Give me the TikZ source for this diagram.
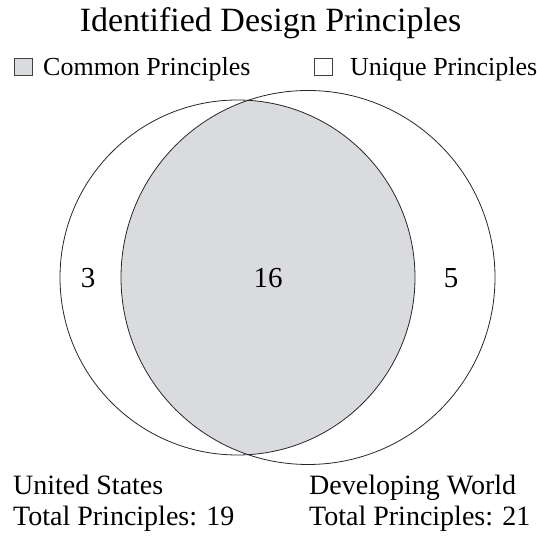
\documentclass[tikz,border=0pt]{standalone}
\usepackage{fontspec}
\setmainfont{Liberation Serif}
\usetikzlibrary{positioning}
\definecolor{commongray}{RGB}{218,219,222}
\tikzset{
	venn/.style={line width=0.8pt, color=black!85},
	keybox/.style={line width=0.6pt, draw=black!75},
	label/.style={inner sep=0pt, anchor=base west, font=\fontsize{28}{30}\selectfont},
	count/.style={inner sep=0pt, font=\fontsize{29}{30}\selectfont}
}

\begin{document}
\begin{tikzpicture}[x=1pt, y=1pt]
			%%%%% START %%%%%
			\useasboundingbox (0, 0) rectangle (537, 537);
			
			\node[inner sep=0pt, anchor=base, font=\fontsize{34}{36}\selectfont] (title) at (270.5, 505) {Identified Design Principles};
			
			\draw[keybox, fill=commongray] (14, 462) rectangle (32, 479);
			\node[label, font=\fontsize{26}{28}\selectfont] (common) at (43, 461) {Common Principles};
			\draw[keybox, fill=white] (314, 462) rectangle (332, 479);
			\node[label, font=\fontsize{26}{28}\selectfont] (unique) at (350, 461) {Unique Principles};
			
			\coordinate (us) at (237.5, 259.5);
			\coordinate (dw) at (308, 259.5);
			
			\begin{scope}
				\clip (us) circle (177.5);
				\fill[commongray] (dw) circle (187);
			\end{scope}
			\draw[venn] (us) circle (177.5);
			\draw[venn] (dw) circle (187);
			
			\node[count] (onlyus) at (88, 259) {3};
			\node[count] (both) at (268, 259) {16};
			\node[count] (onlydw) at (451, 259) {5};
			
			\node[label] (usname) at (13, 42) {United States};
			\node[label] (ustotal) at (13, 12) {Total Principles: 19};
			\node[label] (dwname) at (309, 42) {Developing World};
			\node[label] (dwtotal) at (309, 12) {Total Principles: 21};
			%%%%% END %%%%%
\end{tikzpicture}
\end{document}
